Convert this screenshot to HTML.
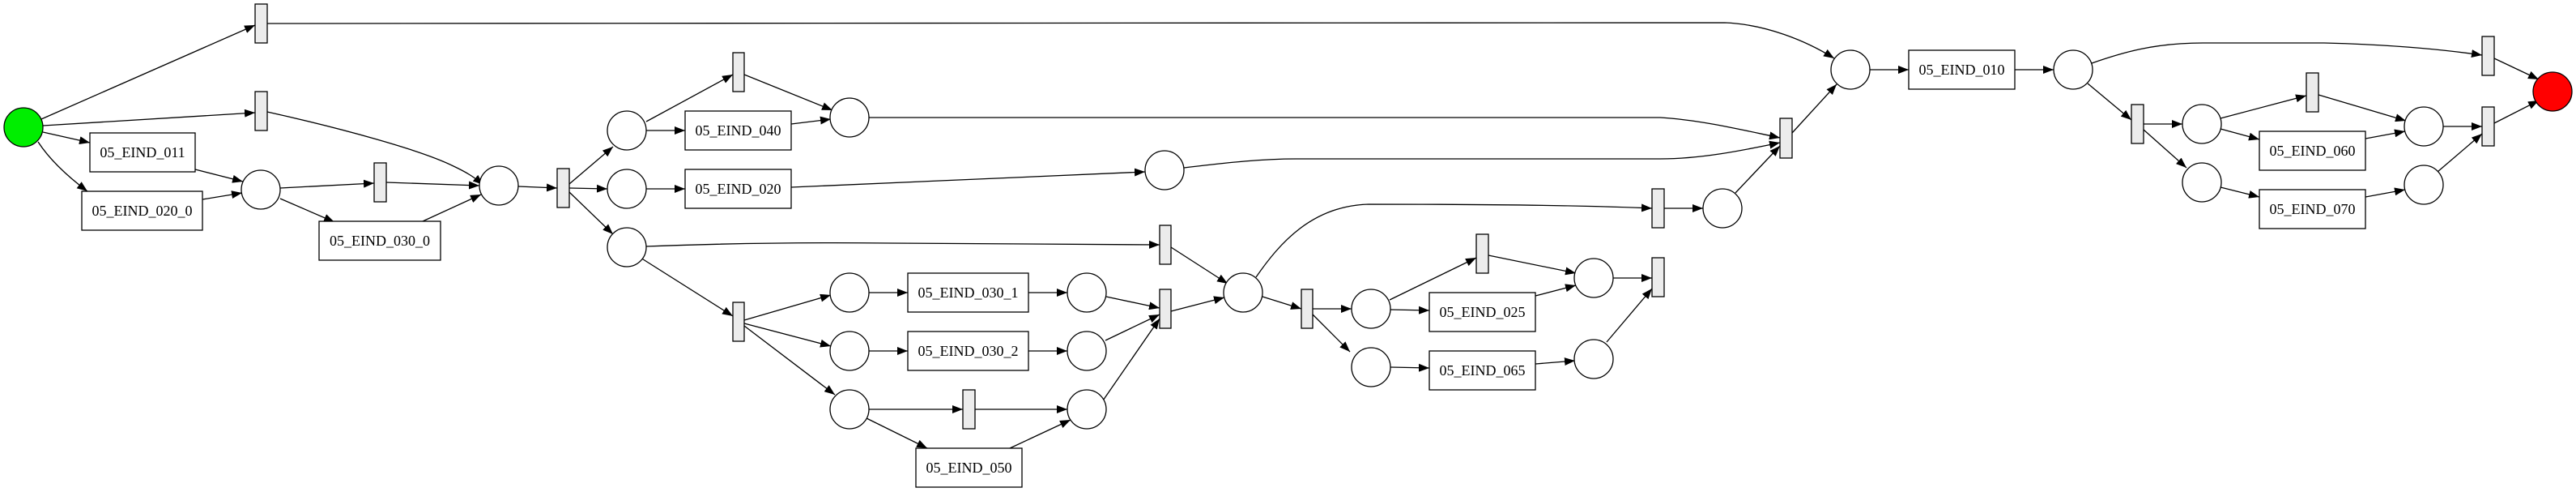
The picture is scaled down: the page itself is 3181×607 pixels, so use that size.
<!DOCTYPE html>
<html><head><meta charset="utf-8"><style>html,body{margin:0;padding:0;background:#fff}svg{display:block}</style></head>
<body>
<svg width="3181" height="607" viewBox="0 0 3181 607" xmlns="http://www.w3.org/2000/svg">
<defs>
<marker id="a" markerUnits="userSpaceOnUse" markerWidth="14" markerHeight="10" refX="13" refY="5" orient="auto">
<path d="M0,0 L13,5 L0,10 Z" fill="#000"/>
</marker>
</defs>
<g fill="none" stroke="#000" stroke-width="1.3" marker-end="url(#a)">
<path d="M51,147 L315,31"/>
<path d="M330,29 L2130,28 C2180,30 2230,50 2265,72"/>
<path d="M53,155 L315,139"/>
<path d="M330,138 C420,158 520,185 560,205 C575,212 585,218 597,228"/>
<path d="M53,163 L111,176"/>
<path d="M47,175 C60,195 80,215 108,236"/>
<path d="M241,209 L300,224"/>
<path d="M250,246 L299,238"/>
<path d="M346,232 L462,226"/>
<path d="M346,245 L413,274"/>
<path d="M477,225 L592,229"/>
<path d="M522,273 L594,240"/>
<path d="M640,230 L688,232"/>
<path d="M703,227 L757,181"/>
<path d="M703,232 L750,233"/>
<path d="M703,237 L757,289"/>
<path d="M798,150 L905,92"/>
<path d="M798,161 L846,161"/>
<path d="M919,92 L1028,136"/>
<path d="M977,153 L1026,147"/>
<path d="M1073,145 L2050,145 C2100,148 2150,160 2198,170"/>
<path d="M798,233 L846,233"/>
<path d="M977,231 L1414,212"/>
<path d="M1462,207 C1520,200 1560,196 1600,196 L2050,196 C2100,196 2150,186 2198,176"/>
<path d="M798,304 C900,300 1000,299 1100,300 C1250,300 1350,301 1432,302"/>
<path d="M791,318 L905,390"/>
<path d="M919,395 L1026,364"/>
<path d="M919,399 L1026,427"/>
<path d="M919,402 L1031,487"/>
<path d="M1073,361 L1121,361"/>
<path d="M1073,433 L1121,433"/>
<path d="M1073,505 L1189,505"/>
<path d="M1070,516 L1145,553"/>
<path d="M1270,361 L1318,361"/>
<path d="M1270,433 L1318,433"/>
<path d="M1204,505 L1318,505"/>
<path d="M1247,553 L1322,518"/>
<path d="M1366,366 L1432,380"/>
<path d="M1365,420 L1432,388"/>
<path d="M1360,497 L1432,393"/>
<path d="M1446,305 L1516,350"/>
<path d="M1446,384 L1512,367"/>
<path d="M1559,366 L1607,381"/>
<path d="M1551,342 C1580,300 1620,254 1690,252 C1800,252 1950,253 2040,257"/>
<path d="M1621,381 L1669,381"/>
<path d="M1621,388 L1667,434"/>
<path d="M1716,370 L1823,318"/>
<path d="M1717,382 L1765,383"/>
<path d="M1717,453 L1765,454"/>
<path d="M1838,315 L1946,337"/>
<path d="M1896,365 L1946,352"/>
<path d="M1896,449 L1945,445"/>
<path d="M1992,343 L2040,343"/>
<path d="M1984,422 L2040,356"/>
<path d="M2055,257 L2103,257"/>
<path d="M2143,238 L2198,180"/>
<path d="M2213,164 L2268,104"/>
<path d="M2309,86 L2357,86"/>
<path d="M2488,86 L2536,86"/>
<path d="M2583,78 C2620,65 2660,53 2720,53 L2870,53 C2950,55 3010,60 3065,68"/>
<path d="M2578,103 L2632,148"/>
<path d="M2647,153 L2695,153"/>
<path d="M2647,160 L2700,207"/>
<path d="M2742,146 L2848,118"/>
<path d="M2742,159 L2790,172"/>
<path d="M2863,117 L2971,149"/>
<path d="M2921,171 L2970,162"/>
<path d="M2742,231 L2790,243"/>
<path d="M2921,243 L2970,234"/>
<path d="M3017,156 L3065,156"/>
<path d="M3010,212 L3065,165"/>
<path d="M3080,72 L3135,98"/>
<path d="M3080,152 L3135,124"/>
</g>
<g stroke="#000" stroke-width="1.3">
<ellipse cx="29" cy="157" rx="24" ry="24" fill="#00ee00"/>
<ellipse cx="3152" cy="113" rx="24" ry="24" fill="#ff0000"/>
<g fill="#fff">
<ellipse cx="322" cy="234" rx="24" ry="24"/>
<ellipse cx="616" cy="229" rx="24" ry="24"/>
<ellipse cx="774" cy="161" rx="24" ry="24"/>
<ellipse cx="774" cy="233" rx="24" ry="24"/>
<ellipse cx="774" cy="305" rx="24" ry="24"/>
<ellipse cx="1049" cy="145" rx="24" ry="24"/>
<ellipse cx="1438" cy="210" rx="24" ry="24"/>
<ellipse cx="1049" cy="361" rx="24" ry="24"/>
<ellipse cx="1049" cy="433" rx="24" ry="24"/>
<ellipse cx="1049" cy="505" rx="24" ry="24"/>
<ellipse cx="1342" cy="361" rx="24" ry="24"/>
<ellipse cx="1342" cy="433" rx="24" ry="24"/>
<ellipse cx="1342" cy="505" rx="24" ry="24"/>
<ellipse cx="1535" cy="361" rx="24" ry="24"/>
<ellipse cx="1693" cy="381" rx="24" ry="24"/>
<ellipse cx="1693" cy="453" rx="24" ry="24"/>
<ellipse cx="1968" cy="343" rx="24" ry="24"/>
<ellipse cx="1968" cy="443" rx="24" ry="24"/>
<ellipse cx="2127" cy="257" rx="24" ry="24"/>
<ellipse cx="2285" cy="86" rx="24" ry="24"/>
<ellipse cx="2560" cy="86" rx="24" ry="24"/>
<ellipse cx="2719" cy="153" rx="24" ry="24"/>
<ellipse cx="2719" cy="225" rx="24" ry="24"/>
<ellipse cx="2993" cy="156" rx="24" ry="24"/>
<ellipse cx="2993" cy="228" rx="24" ry="24"/>
<rect x="111" y="164" width="130" height="48"/>
<rect x="101" y="236" width="149" height="48"/>
<rect x="394" y="273" width="150" height="48"/>
<rect x="846" y="137" width="131" height="48"/>
<rect x="846" y="209" width="131" height="48"/>
<rect x="1121" y="337" width="149" height="48"/>
<rect x="1121" y="409" width="149" height="48"/>
<rect x="1131" y="553" width="131" height="48"/>
<rect x="1765" y="361" width="131" height="48"/>
<rect x="1765" y="433" width="131" height="48"/>
<rect x="2357" y="62" width="131" height="48"/>
<rect x="2790" y="162" width="131" height="48"/>
<rect x="2790" y="234" width="131" height="48"/>
</g>
<g fill="#ececec">
<rect x="315" y="5" width="15" height="48"/>
<rect x="315" y="113" width="15" height="48"/>
<rect x="462" y="201" width="15" height="48"/>
<rect x="688" y="208" width="15" height="48"/>
<rect x="905" y="65" width="14" height="48"/>
<rect x="905" y="373" width="14" height="48"/>
<rect x="1432" y="278" width="14" height="48"/>
<rect x="1432" y="357" width="14" height="48"/>
<rect x="1189" y="481" width="15" height="48"/>
<rect x="1607" y="357" width="14" height="48"/>
<rect x="1823" y="289" width="15" height="48"/>
<rect x="2040" y="318" width="15" height="48"/>
<rect x="2040" y="233" width="15" height="48"/>
<rect x="2198" y="146" width="15" height="49"/>
<rect x="2632" y="129" width="15" height="48"/>
<rect x="2848" y="90" width="15" height="48"/>
<rect x="3065" y="45" width="15" height="48"/>
<rect x="3065" y="132" width="15" height="48"/>
</g>
</g>
<g font-family="'Liberation Serif', serif" font-size="18" text-anchor="middle" fill="#000">
<text x="176" y="194">05_EIND_011</text>
<text x="175.5" y="266">05_EIND_020_0</text>
<text x="469" y="303">05_EIND_030_0</text>
<text x="911.5" y="167">05_EIND_040</text>
<text x="911.5" y="239">05_EIND_020</text>
<text x="1195.5" y="367">05_EIND_030_1</text>
<text x="1195.5" y="439">05_EIND_030_2</text>
<text x="1196.5" y="583">05_EIND_050</text>
<text x="1830.5" y="391">05_EIND_025</text>
<text x="1830.5" y="463">05_EIND_065</text>
<text x="2422.5" y="92">05_EIND_010</text>
<text x="2855.5" y="192">05_EIND_060</text>
<text x="2855.5" y="264">05_EIND_070</text>
</g>
</svg>
</body></html>
